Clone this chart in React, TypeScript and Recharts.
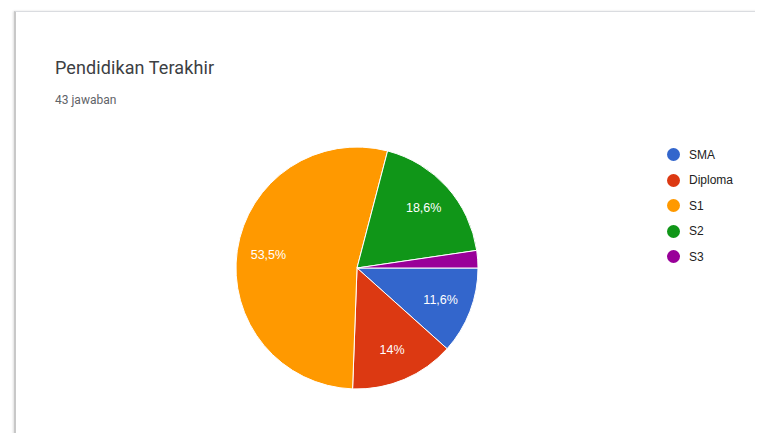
import { PieChart, Pie, Cell } from 'recharts'

const categories = ['SMA', 'Diploma', 'S1', 'S2', 'S3']
const counts = [5, 6, 23, 8, 1]
const colors = ['#3366cc', '#dc3912', '#ff9900', '#109618', '#990099']

const total = counts.reduce((a, b) => a + b, 0)

const data = categories.map((name, i) => ({
  name,
  value: counts[i],
  fill: colors[i],
}))

const RAD = Math.PI / 180

function formatPct(v: number) {
  const pct = Math.round((v / total) * 1000) / 10
  return `${pct.toString().replace('.', ',')}%`
}

function renderLabel(props: any) {
  const { cx, cy, midAngle, outerRadius, value } = props
  // tiny slices get no text, like the form summary view
  if (value / total < 0.05) return null
  const r = outerRadius * 0.74
  const x = cx + r * Math.cos(-midAngle * RAD)
  const y = cy + r * Math.sin(-midAngle * RAD)
  return (
    <text
      x={x}
      y={y}
      fill="#ffffff"
      textAnchor="middle"
      dominantBaseline="central"
      style={{ fontFamily: 'Arial, "Liberation Sans", sans-serif', fontSize: 12.5 }}
    >
      {formatPct(value)}
    </text>
  )
}

function LegendList() {
  return (
    <div
      style={{
        position: 'absolute',
        left: 667,
        top: 142,
        fontFamily: 'Arial, "Liberation Sans", sans-serif',
      }}
    >
      {data.map((d) => (
        <div
          key={d.name}
          style={{ display: 'flex', alignItems: 'center', height: 25.5 }}
        >
          <span
            style={{
              width: 13,
              height: 13,
              borderRadius: '50%',
              background: d.fill,
              display: 'inline-block',
              marginRight: 9,
            }}
          />
          <span style={{ fontSize: 12, color: '#222222' }}>{d.name}</span>
        </div>
      ))}
    </div>
  )
}

export default function App() {
  return (
    <div
      style={{
        position: 'relative',
        width: 763,
        height: 441,
        margin: -8,
        overflow: 'hidden',
        background: '#ffffff',
      }}
    >
      <div
        style={{
          position: 'absolute',
          left: 14,
          top: 11,
          width: 800,
          height: 426,
          border: '1px solid #dadce0',
          borderLeft: '2px solid #c8c8c8',
          boxShadow: '-1px 0 2px rgba(0,0,0,0.12)',
          background: '#ffffff',
        }}
      />
      <div
        style={{
          position: 'absolute',
          left: 55,
          top: 57,
          fontFamily: 'Roboto, Arial, sans-serif',
          fontSize: 18,
          color: '#3c4043',
          letterSpacing: 0.1,
        }}
      >
        Pendidikan Terakhir
      </div>
      <div
        style={{
          position: 'absolute',
          left: 55,
          top: 93,
          fontFamily: 'Roboto, Arial, sans-serif',
          fontSize: 12,
          color: '#5f6368',
        }}
      >
        {total} jawaban
      </div>
      <div style={{ position: 'absolute', left: 0, top: 0 }}>
        <PieChart
          width={763}
          height={441}
          margin={{ top: 0, right: 0, bottom: 0, left: 0 }}
        >
          <Pie
            data={data}
            dataKey="value"
            nameKey="name"
            cx={357}
            cy={268}
            outerRadius={121}
            startAngle={0}
            endAngle={-360}
            stroke="#ffffff"
            strokeWidth={1}
            label={renderLabel}
            labelLine={false}
            isAnimationActive={false}
          >
            {data.map((d, i) => (
              <Cell key={`cell-${i}`} fill={d.fill} />
            ))}
          </Pie>
        </PieChart>
      </div>
      <LegendList />
    </div>
  )
}
